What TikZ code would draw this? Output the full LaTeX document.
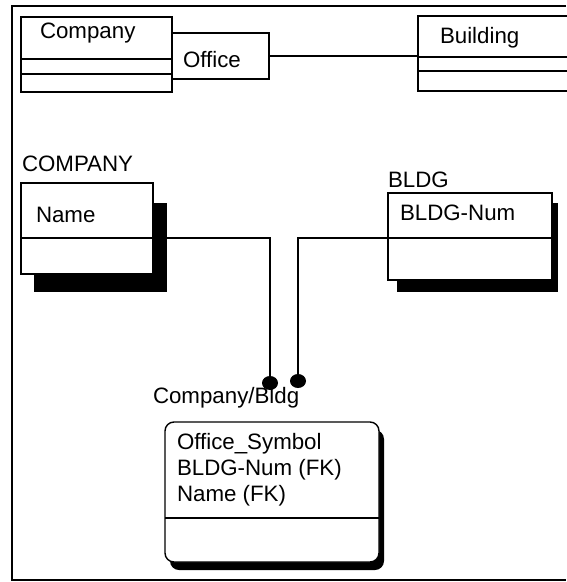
\documentclass[tikz,border=0pt]{standalone}
\usepackage{fontspec}
\setmainfont{Liberation Sans}
\usetikzlibrary{shapes.geometric}
\begin{document}
\begin{tikzpicture}[x=1pt,y=-1pt,line width=1.4pt,
  box/.style={draw, fill=white, rectangle, inner sep=0pt, outer sep=0pt, anchor=north west},
  rbox/.style={box, rounded corners=9pt},
  shadowbox/.style={fill=black, rectangle, inner sep=0pt, outer sep=0pt, anchor=north west},
  lbl/.style={anchor=base west, inner sep=0pt, outer sep=0pt, font=\fontsize{22.3}{26}\selectfont},
  dotnode/.style={ellipse, fill=black, inner sep=0pt, outer sep=0pt, minimum width=16pt, minimum height=14pt}]
\useasboundingbox (0,0) rectangle (566,582);
% outer frame (top, left, bottom)
\draw (566,6) -- (12,6) -- (12,580) -- (566,580);

% ---- top diagram ----
\node[box, minimum width=151pt, minimum height=75pt] (comptop) at (21,17) {};
\draw (21,59) -- (172,59);
\draw (21,74) -- (172,74);
\node[lbl] (comptoplbl) at (40,38) {Company};

\node[box, minimum width=97pt, minimum height=46pt] (office) at (172,33) {};
\node[lbl] (officelbl) at (183,67) {Office};

\node[box, minimum width=150pt, minimum height=75pt] (building) at (418,16) {};
\draw (418,57) -- (568,57);
\draw (418,71) -- (568,71);
\node[lbl] (buildinglbl) at (440,43) {Building};

\draw (office.east) -- (building.west |- office.east);

% ---- COMPANY entity ----
\node[lbl] (companyname) at (22,171) {COMPANY};
\node[shadowbox, minimum width=133pt, minimum height=89pt] (compsh) at (34,203) {};
\node[box, minimum width=132pt, minimum height=91pt] (company) at (21,183) {};
\coordinate (cdiv) at (21,238);
\draw (cdiv) -- (153,238);
\node[lbl] (namelbl) at (36,222) {Name};

% ---- BLDG entity ----
\node[lbl] (bldgname) at (388,187) {BLDG};
\node[shadowbox, minimum width=161pt, minimum height=89pt] (bldgsh) at (397,203) {};
\node[box, minimum width=164pt, minimum height=87pt] (bldg) at (388,193) {};
\coordinate (bdiv) at (552,238);
\draw (bldg.west |- bdiv) -- (bdiv);
\node[lbl] (bldgnum) at (400,220) {BLDG-Num};

% ---- Company/Bldg entity ----
\node[shadowbox, rounded corners=9pt, minimum width=214pt, minimum height=140pt] (cbsh) at (170,430) {};
\node[rbox, minimum width=214pt, minimum height=140pt] (cb) at (165,422) {};
\draw (165,518) -- (379,518);
\node[lbl] (cbname) at (153,403) {Company/Bldg};
\node[lbl] (attr1) at (177,449) {Office\_Symbol};
\node[lbl] (attr2) at (177,475) {BLDG-Num (FK)};
\node[lbl] (attr3) at (177,501) {Name (FK)};

% ---- relationship dots ----
\node[dotnode] (dot1) at (270,383) {};
\node[dotnode] (dot2) at (298,381) {};

\draw (compsh.east |- cdiv) -| (dot1);
\draw (bldg.west |- bdiv) -| (dot2);
\end{tikzpicture}
\end{document}
